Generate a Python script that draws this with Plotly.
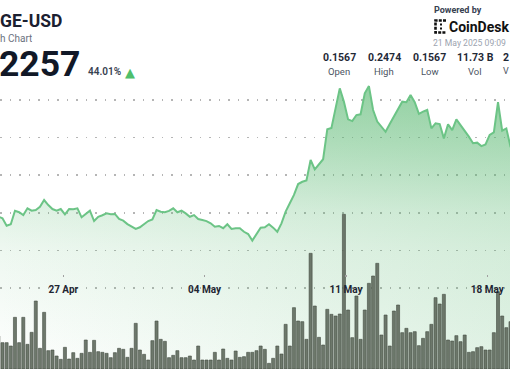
import plotly.graph_objects as go
import pandas as pd

W, H = 510, 369

# ---------------- text content ----------------
symbol_text = "GE-USD"
subtitle_text = "h Chart"
last_price_text = "2257"
change_text = "44.01%"
powered_text = "Powered by"
brand_text = "CoinDesk"
timestamp_text = "21 May 2025 09:09"
stat_values = ["0.1567", "0.2474", "0.1567", "11.73 B", "2"]
stat_labels = ["Open", "High", "Low", "Vol", "V"]

# ---------------- data ----------------
start_time = "2025-04-23 18:45"
step_minutes = 297

price = [0.1780,
         0.1771, 0.1731, 0.1739, 0.1811, 0.1803, 0.1788, 0.1824, 0.1811, 0.1815, 0.1832,
         0.1868, 0.1841, 0.1820, 0.1811, 0.1820, 0.1792, 0.1820, 0.1819, 0.1824, 0.1776,
         0.1792, 0.1811, 0.1756, 0.1779, 0.1787, 0.1797, 0.1792, 0.1794, 0.1767, 0.1758,
         0.1740, 0.1726, 0.1714, 0.1723, 0.1739, 0.1756, 0.1765, 0.1815, 0.1806, 0.1803,
         0.1810, 0.1824, 0.1803, 0.1811, 0.1797, 0.1779, 0.1788, 0.1767, 0.1762, 0.1756,
         0.1744, 0.1726, 0.1730, 0.1718, 0.1739, 0.1714, 0.1718, 0.1718, 0.1699, 0.1687,
         0.1652, 0.1690, 0.1721, 0.1723, 0.1739, 0.1721, 0.1699, 0.1744, 0.1806, 0.1851,
         0.1895, 0.1953, 0.1965, 0.1972, 0.2081, 0.2031, 0.2060, 0.2085, 0.2244, 0.2251,
         0.2357, 0.2462, 0.2391, 0.2297, 0.2288, 0.2320, 0.2324, 0.2436, 0.2474, 0.2347,
         0.2285, 0.2256, 0.2231, 0.2272, 0.2311, 0.2357, 0.2391, 0.2388, 0.2427, 0.2388,
         0.2326, 0.2338, 0.2347, 0.2249, 0.2276, 0.2272, 0.2196, 0.2271, 0.2240, 0.2297,
         0.2267, 0.2231, 0.2205, 0.2170, 0.2173, 0.2155, 0.2164, 0.2214, 0.2228, 0.2388,
         0.2237, 0.2249, 0.2152,
         0.2130]

volume_m = [99,
            79, 79, 69, 155, 79, 155, 74, 110, 204, 62,
            170, 55, 57, 39, 29, 65, 30, 49, 32, 47,
            87, 50, 86, 52, 50, 47, 34, 49, 62, 59,
            35, 62, 137, 57, 44, 27, 85, 144, 89, 83,
            34, 41, 55, 34, 34, 39, 27, 69, 27, 27,
            27, 50, 27, 60, 32, 27, 54, 35, 37, 50,
            50, 55, 69, 59, 17, 32, 69, 45, 134, 69,
            184, 144, 142, 89, 347, 189, 95, 72, 179, 164,
            159, 165, 464, 177, 94, 219, 89, 177, 257, 279,
            317, 102, 162, 69, 174, 192, 109, 122, 109, 112,
            70, 92, 112, 134, 214, 195, 224, 87, 84, 100,
            82, 102, 50, 52, 64, 67, 57, 57, 109, 232,
            159, 124, 142]

price_gridlines = [0.14, 0.16, 0.18, 0.20, 0.22, 0.24]
x_range = ["2025-04-23 20:45:36", "2025-05-19 03:00:00"]
y_range = [0.0969, 0.2932]
vol_range = [0, 1107]
x_tick0 = "2025-04-27"

times = pd.date_range(start_time, periods=len(price), freq=f"{step_minutes}min")
vol_times = times[:len(volume_m)]

GREEN = "80,180,105"

fig = go.Figure()

# vertical gradient area
fig.add_trace(go.Scatter(
    x=times, y=price, mode="lines", line=dict(width=0, color="rgba(0,0,0,0)"),
    fill="tozeroy",
    fillgradient=dict(type="vertical", start=y_range[0], stop=0.25,
                      colorscale=[[0, f"rgba({GREEN},0.0)"], [0.42, f"rgba({GREEN},0.10)"],
                                  [0.55, f"rgba({GREEN},0.17)"], [0.77, f"rgba({GREEN},0.38)"],
                                  [1, f"rgba({GREEN},0.58)"]]),
    hoverinfo="skip", showlegend=False))
# horizontal tint (greener to the right)
fig.add_trace(go.Scatter(
    x=times, y=price, mode="lines", line=dict(width=0, color="rgba(0,0,0,0)"),
    fill="tozeroy",
    fillgradient=dict(type="horizontal",
                      colorscale=[[0, f"rgba({GREEN},0.0)"], [1, f"rgba({GREEN},0.17)"]]),
    hoverinfo="skip", showlegend=False))
# price line
fig.add_trace(go.Scatter(
    x=times, y=price, mode="lines", line=dict(width=2, color="#6cc486"),
    hoverinfo="skip", showlegend=False))
# volume bars
fig.add_trace(go.Bar(
    x=vol_times, y=volume_m, yaxis="y2",
    width=3.6 * 3600 * 1000,
    marker=dict(color="rgba(98,108,96,0.92)", line=dict(color="#434b41", width=0.6)),
    hoverinfo="skip", showlegend=False))

fig.update_layout(
    width=W, height=H,
    margin=dict(l=0, r=0, t=0, b=0),
    paper_bgcolor="white", plot_bgcolor="white",
    bargap=0,
    xaxis=dict(type="date", range=x_range, tick0=x_tick0, dtick=7 * 86400000,
               tickformat="%d %b", anchor="free", position=1 - 273.5 / H,
               showgrid=False, zeroline=False, showline=False,
               ticks="outside", ticklen=2, tickwidth=1.5, tickcolor="#a0a0a0",
               ticklabelstandoff=4,
               tickfont=dict(family="Roboto", size=10, color="#1f2633", weight=700)),
    yaxis=dict(range=y_range, tickvals=price_gridlines, showticklabels=False,
               showgrid=True, gridcolor="#b5b5b5", gridwidth=1.5, griddash="1.5px,8px",
               zeroline=False, showline=False, ticks=""),
    yaxis2=dict(range=vol_range, overlaying="y", visible=False, showgrid=False),
)


def px(x):
    return x / W


def py(y):
    return 1 - y / H


anns = []


def add_text(text, x, y, size, color, weight=400, xanchor="left", family="Roboto", height=None):
    a = dict(text=text, x=px(x), y=py(y), xref="paper", yref="paper",
             xanchor=xanchor, yanchor="middle", showarrow=False, borderpad=0,
             font=dict(family=family, size=size, color=color, weight=weight))
    if height is not None:
        a["height"] = height
    anns.append(a)


add_text(symbol_text, -1, 20.8, 17.5, "#1b2030", 700, height=14)
add_text(subtitle_text, -1, 37.8, 10, "#6b7280", height=10)
add_text(last_price_text, -2, 63.5, 35.5, "#111827", 700, height=27)
add_text(change_text, 87, 72, 10, "#374151", 600)
add_text("▲", 129.5, 72.5, 13, "#4fbf6b", xanchor="center", family="DejaVu Sans")
add_text(powered_text, 433, 10, 9, "#374151", 700)
add_text(brand_text, 448, 26.5, 14, "#111111", 700)
add_text(timestamp_text, 432, 42.5, 8.6, "#9ca3af")

stat_centers = [339, 384, 429.5, 475]
for i, (v, lab) in enumerate(zip(stat_values, stat_labels)):
    if i < len(stat_centers):
        add_text(v, stat_centers[i], 57.5, 10.5, "#1f2937", 700, xanchor="center")
        add_text(lab, stat_centers[i], 71, 9.5, "#4b5563", xanchor="center")
    else:
        add_text(v, 502, 57.5, 10.5, "#1f2937", 700)
        add_text(lab, 502, 71, 9, "#4b5563")

fig.update_layout(annotations=anns)

# CoinDesk mark (decorative)
shapes = [
    dict(type="path", xref="paper", yref="paper",
         path=f"M {px(446)},{py(20.5)} L {px(435.5)},{py(20.5)} L {px(435.5)},{py(32.5)} L {px(446)},{py(32.5)}",
         line=dict(color="#111111", width=2.6, dash="3px,1.2px")),
    dict(type="rect", xref="paper", yref="paper", x0=px(440), x1=px(442), y0=py(25.5), y1=py(23.5),
         fillcolor="#111111", line=dict(width=0)),
    dict(type="rect", xref="paper", yref="paper", x0=px(440), x1=px(442), y0=py(29.5), y1=py(27.5),
         fillcolor="#111111", line=dict(width=0)),
]
fig.update_layout(shapes=shapes)

fig.write_html("out.html",
               config={"displayModeBar": False, "staticPlot": True},
               post_script="document.body.style.margin='0';document.body.style.overflow='hidden';")
